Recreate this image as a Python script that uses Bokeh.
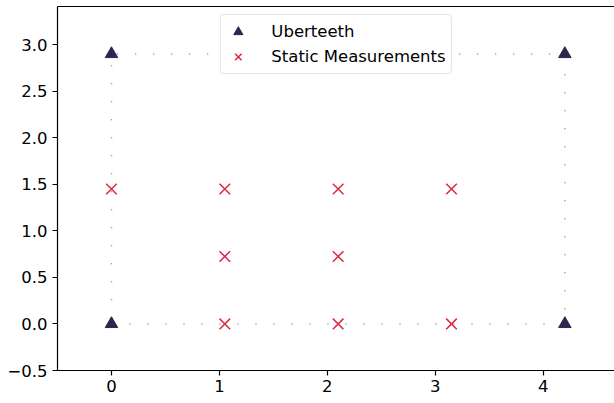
from bokeh.plotting import figure
from bokeh.models import Range1d, LinearAxis, FixedTicker, CustomJSTickFormatter, Legend, LegendItem
from bokeh.embed import file_html
from bokeh.resources import INLINE

# Data
uber_x = [0.0, 4.2, 4.2, 0.0]
uber_y = [0.0, 0.0, 2.9, 2.9]
static_x = [0.0, 1.05, 2.1, 3.15, 1.05, 2.1, 1.05, 2.1, 3.15]
static_y = [1.45, 1.45, 1.45, 1.45, 0.725, 0.725, 0.0, 0.0, 0.0]
x_ticks = [0, 1, 2, 3, 4]
y_ticks = [-0.5, 0.0, 0.5, 1.0, 1.5, 2.0, 2.5, 3.0]

FONT = "DejaVu Sans"
FS = "16.5px"

p = figure(width=614, height=403, output_backend="svg", toolbar_location=None,
           x_range=Range1d(-0.5, 4.66), y_range=Range1d(-0.5, 3.41),
           x_axis_location=None, y_axis_location=None,
           min_border_left=57, min_border_right=0, min_border_top=6, min_border_bottom=33)
p.outline_line_color = None
p.xgrid.visible = False
p.ygrid.visible = False
p.background_fill_color = "white"

fmt = CustomJSTickFormatter(code="return (tick < 0 ? '\u2212' : '') + Math.abs(tick).toFixed(1);")
xfmt = CustomJSTickFormatter(code="return tick.toFixed(0);")

def style(ax):
    ax.axis_line_color = "black"
    ax.axis_line_width = 1.2
    ax.major_tick_line_color = "black"
    ax.major_tick_line_width = 1.2
    ax.major_tick_out = 5
    ax.major_tick_in = 0
    ax.minor_tick_out = 0
    ax.minor_tick_in = 0
    ax.major_label_text_font = FONT
    ax.major_label_text_font_size = FS
    ax.major_label_text_color = "black"

xa = LinearAxis(ticker=FixedTicker(ticks=x_ticks), formatter=xfmt)
style(xa)
xa.major_label_standoff = 4
p.add_layout(xa, "below")

ya = LinearAxis(ticker=FixedTicker(ticks=y_ticks), formatter=fmt)
style(ya)
ya.major_label_standoff = 5
p.add_layout(ya, "left")

ta = LinearAxis(ticker=FixedTicker(ticks=[]))
ta.axis_line_color = "black"
ta.axis_line_width = 1.2
ta.major_label_text_font_size = "0px"
ta.minor_tick_out = 0
ta.major_tick_out = 0
p.add_layout(ta, "above")

# dotted rectangle through the Uberteeth
p.line(uber_x + uber_x[:1], uber_y + uber_y[:1], line_color="gray", line_width=1.5,
       line_dash="1 17", line_alpha=0.9)

r_ub = p.scatter(uber_x, uber_y, marker="triangle", size=12.5, fill_color="#2b2850",
                 line_color="#2b2850")
r_st = p.scatter(static_x, static_y, marker="x", size=15, line_color="#dc2845",
                 line_width=1.5)

legend = Legend(items=[LegendItem(label="Uberteeth", renderers=[r_ub]),
                       LegendItem(label="Static Measurements", renderers=[r_st])],
                location="top_center")
legend.margin = 8
legend.padding = 5
legend.spacing = 2
legend.label_text_font = FONT
legend.label_text_font_size = FS
legend.label_text_color = "black"
legend.label_height = 23
legend.glyph_height = 23
legend.glyph_width = 24
legend.label_standoff = 22
legend.border_line_color = "#cccccc"
legend.border_line_width = 1.2
legend.background_fill_alpha = 0.9
legend.border_radius = 4
p.add_layout(legend, "center")

open("out.html", "w").write(file_html(p, INLINE))
